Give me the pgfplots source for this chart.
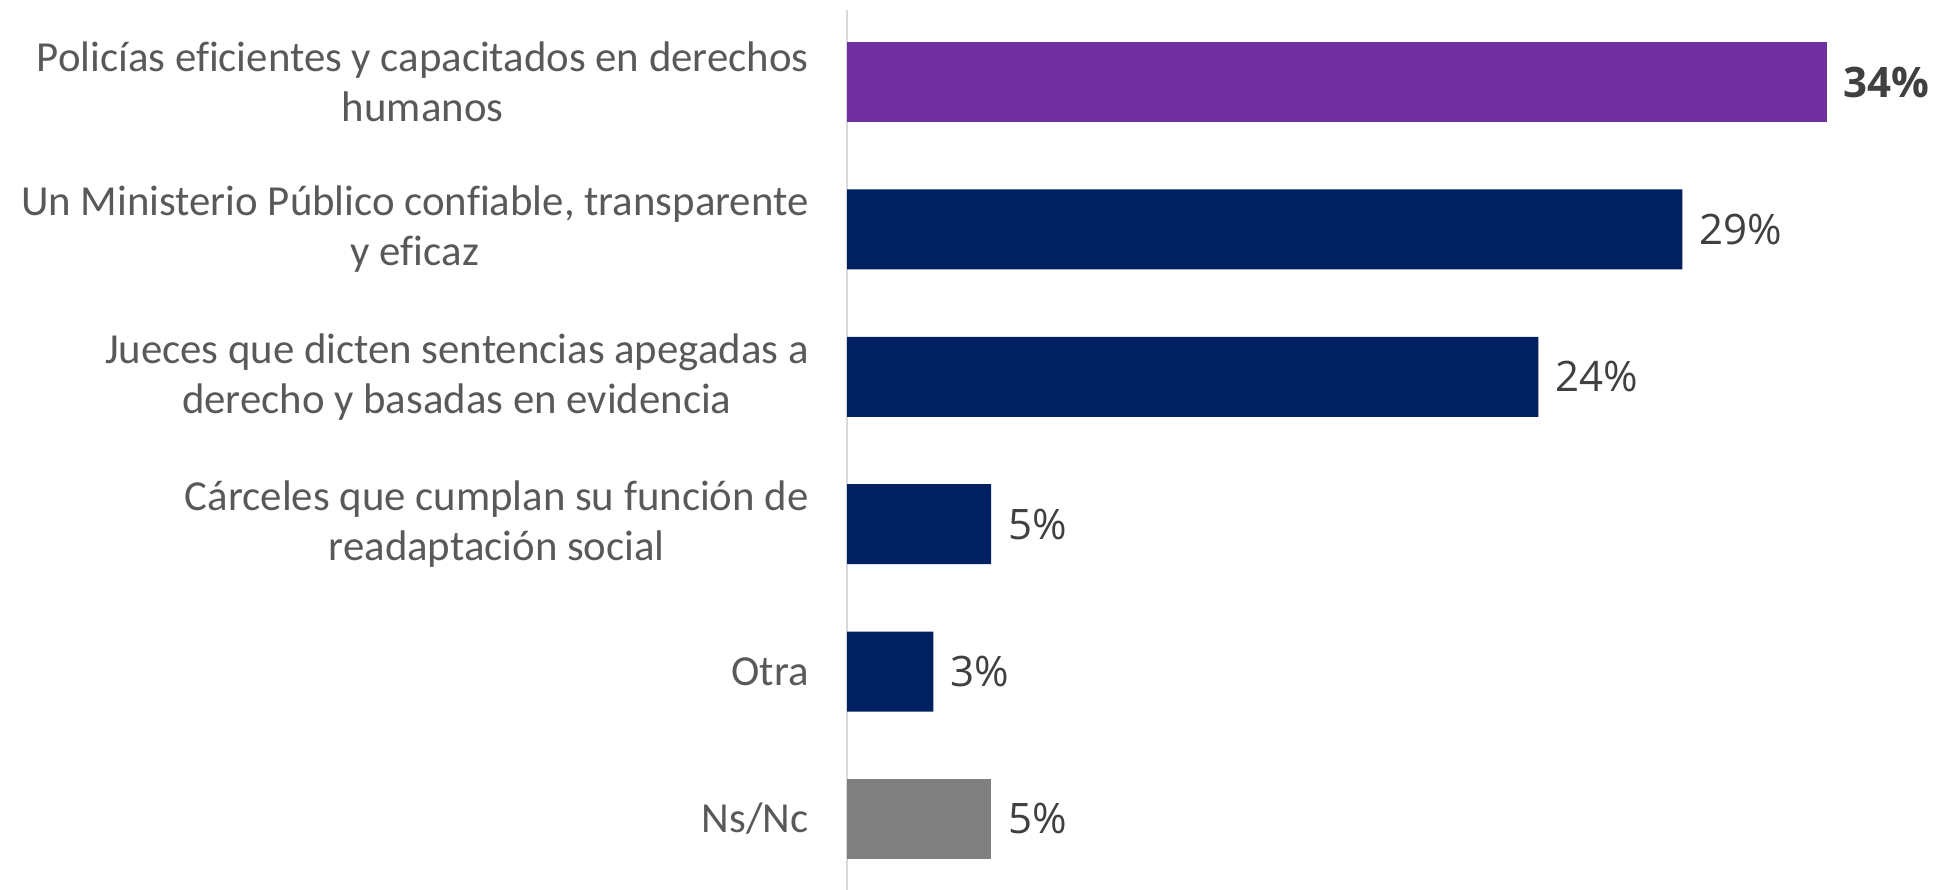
\documentclass[border=0pt]{standalone}
\usepackage{pgfplots}
\pgfplotsset{compat=1.18}
\usepackage{fontspec}
\setmainfont{Carlito}[Ligatures=NoCommon]
\newfontfamily\datafont{Open Sans}
\definecolor{cpurple}{HTML}{7030A0}
\definecolor{cnavy}{HTML}{002060}
\definecolor{cgray}{HTML}{808080}
\definecolor{labgray}{HTML}{595959}
\definecolor{datgray}{HTML}{404040}
\definecolor{axgray}{HTML}{D9D9D9}
\begin{document}
\begin{tikzpicture}
\useasboundingbox (0,0) rectangle (968bp,445bp);
\begin{axis}[
  at={(423.5bp,0bp)}, anchor=south west,
  scale only axis, width=544.5bp, height=440bp,
  xbar, bar width=40bp, bar shift=0pt,
  xmin=0, xmax=37.8,
  ymin=-0.482, ymax=5.489,
  axis x line=none,
  axis y line*=left,
  axis line style={draw=axgray, line width=1bp},
  ytick={0,1,2,3,4,5},
  yticklabels={Ns/Nc, Otra, {Cárceles que cumplan su función de\\readaptación social}, {Jueces que dicten sentencias apegadas a\\derecho y basadas en evidencia}, {Un Ministerio Público confiable, transparente\\y eficaz}, {Policías eficientes y capacitados en derechos\\humanos}},
  yticklabel style={align=center, font=\fontsize{21.4bp}{25bp}\selectfont, text=labgray, inner sep=0pt, xshift=-19bp},
  major tick length=0pt,
  clip=false,
  /pgf/number format/assume math mode=true,
  nodes near coords={\pgfmathprintnumber[assume math mode=true]{\pgfplotspointmeta}\%},
  nodes near coords style={anchor=west, inner sep=0pt, xshift=8.5bp, text=datgray, font=\datafont\fontsize{21bp}{25bp}\selectfont},
  point meta=x,
]
\addplot[fill=cpurple, draw=none, nodes near coords style={font=\datafont\bfseries\fontsize{21bp}{25bp}\selectfont}] coordinates {(34,5)};
\addplot[fill=cnavy, draw=none] coordinates {(29,4) (24,3) (5,2) (3,1)};
\addplot[fill=cgray, draw=none] coordinates {(5,0)};
\end{axis}
\end{tikzpicture}
\end{document}
